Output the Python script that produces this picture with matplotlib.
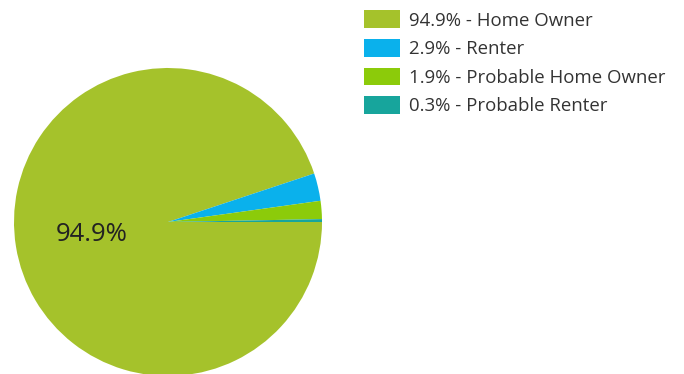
import matplotlib.pyplot as plt

# Data
labels = ['Home Owner', 'Renter', 'Probable Home Owner', 'Probable Renter']
shares = [94.9, 2.9, 1.9, 0.3]
colors = ['#A5C22B', '#0AB1EC', '#8CCB0A', '#17A59C']

plt.rcParams['font.family'] = ['Open Sans', 'DejaVu Sans']

fig = plt.figure(figsize=(6.84, 3.74), dpi=100)
# pie axes placed in pixels: centre (168, 222 from top), radius 154
ax = fig.add_axes([14 / 684, -2 / 374, 308 / 684, 308 / 374])

wedges, texts, autotexts = ax.pie(shares, colors=colors, startangle=0, counterclock=False,
                                  autopct=lambda p: f'{p:.1f}%' if p > 10 else '',
                                  pctdistance=0.5, wedgeprops={'linewidth': 0},
                                  textprops={'fontsize': 18.5, 'color': '#222222'})
ax.set_xlim(-1, 1)
ax.set_ylim(-1, 1)
ax.set_aspect('equal')

legend_labels = [f'{v:.1f}% - {l}' for v, l in zip(shares, labels)]
fig.legend(wedges, legend_labels, loc='upper left', bbox_to_anchor=(357 / 684, 1 - 3 / 374),
           frameon=False, fontsize=13.4, handlelength=1.9, handleheight=1.1,
           handletextpad=0.5, labelspacing=0.5, borderaxespad=0, labelcolor='#333333')

plt.savefig('out.png', dpi=100)
